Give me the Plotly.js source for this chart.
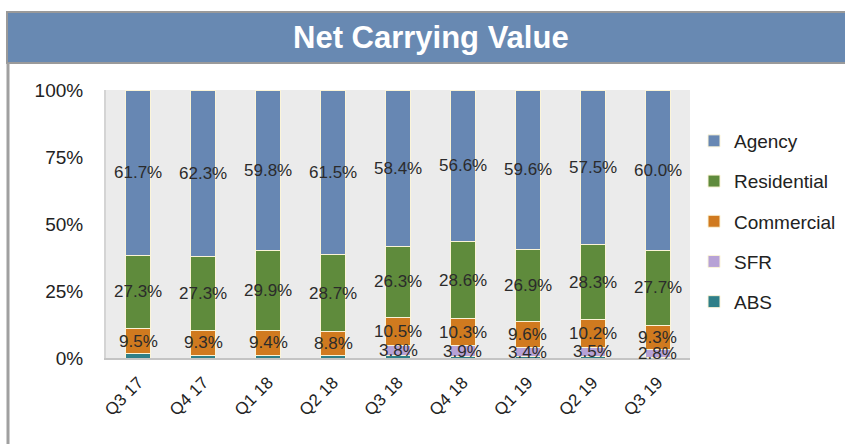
<!DOCTYPE html>
<html>
<head>
<meta charset="utf-8">
<script src="https://cdn.plot.ly/plotly-3.0.1.min.js"></script>
<style>html,body{margin:0;padding:0;background:#fff;}#chart{width:845px;height:444px;}</style>
</head>
<body>
<div id="chart"></div>
<script>
const quarters = ["Q3 17","Q4 17","Q1 18","Q2 18","Q3 18","Q4 18","Q1 19","Q2 19","Q3 19"];
const agency = [61.7,62.3,59.8,61.5,58.4,56.6,59.6,57.5,60.0];
const residential = [27.3,27.3,29.9,28.7,26.3,28.6,26.9,28.3,27.7];
const commercial = [9.5,9.3,9.4,8.8,10.5,10.3,9.6,10.2,9.3];
const sfr = [0,0,0,0,3.8,3.9,3.4,3.5,2.8];
const abs = [1.5,1.1,0.9,1.0,1.0,0.6,0.5,0.5,0.2];
const yTicks = [0,25,50,75,100];

const colors = {Agency:"#6787b3", Residential:"#5f8b3c", Commercial:"#d07a1f", SFR:"#b7a2d6", ABS:"#2f7f88"};
const stack = [["ABS",abs,false,5],["SFR",sfr,true,4],["Commercial",commercial,true,3],["Residential",residential,true,2],["Agency",agency,true,1]];

const traces = stack.map(([name, vals, lab, rank]) => ({
  type:"bar", name:name, x:quarters, y:vals, width:0.385,
  legendgroup:name, legendrank:rank,
  marker:{color:colors[name], line:{color:"#fbf4d8", width:1}},
  hoverinfo:"skip"
}));

const annotations = [];
const base = quarters.map(()=>0);
stack.forEach(([name, vals, labeled]) => {
  vals.forEach((v,i) => {
    if (labeled && v > 0) {
      annotations.push({x:quarters[i], y:base[i]+v/2, xref:"x", yref:"y", text:v.toFixed(1)+"%",
        showarrow:false, font:{family:"Liberation Sans, Arial, sans-serif", size:17, color:"#2b2b2b"}});
    }
    base[i] += v;
  });
});

const L=106, R=690, T=90, B=358;
const px = x => (x-L)/(R-L);
const py = y => (B-y)/(B-T);

annotations.push({xref:"paper", yref:"paper", x:px(431), y:py(37), text:"<b>Net Carrying Value</b>",
  showarrow:false, xanchor:"center", yanchor:"middle",
  font:{family:"Liberation Sans, Arial, sans-serif", size:31, color:"#ffffff"}});

const shapes = [
  {type:"rect", xref:"paper", yref:"paper", x0:px(7), x1:px(847), y0:py(63), y1:py(12),
    fillcolor:"#6889b2", line:{color:"#9a9a9a", width:2}, layer:"below"},
  {type:"line", xref:"paper", yref:"paper", x0:px(8), x1:px(8), y0:py(63), y1:py(446),
    line:{color:"#a0a0a0", width:3}}
];

const layout = {
  width:845, height:444,
  margin:{l:L, r:845-R, t:T, b:444-B, autoexpand:false},
  paper_bgcolor:"#ffffff", plot_bgcolor:"#ebebeb",
  barmode:"stack",
  showlegend:true,
  legend:{x:px(694), y:py(122), xanchor:"left", yanchor:"top", traceorder:"grouped",
    tracegroupgap:12.5, bgcolor:"rgba(0,0,0,0)",
    font:{family:"Liberation Sans, Arial, sans-serif", size:19, color:"#222"}},
  xaxis:{type:"category", tickangle:-45, showgrid:false, zeroline:false, showline:true,
    linecolor:"#c4c4c4", linewidth:2, ticks:"", ticklabelstandoff:6,
    tickfont:{family:"Liberation Sans, Arial, sans-serif", size:17, color:"#222"}},
  yaxis:{range:[0,100], tickvals:yTicks, ticktext:yTicks.map(v=>v+"%"), showgrid:false, zeroline:false,
    showline:true, linecolor:"#d4d4d4", linewidth:2, ticks:"", ticklabelstandoff:17,
    tickfont:{family:"Liberation Sans, Arial, sans-serif", size:19, color:"#222"}},
  annotations:annotations,
  shapes:shapes
};

Plotly.newPlot("chart", traces, layout, {displayModeBar:false, staticPlot:true});
</script>
</body>
</html>
